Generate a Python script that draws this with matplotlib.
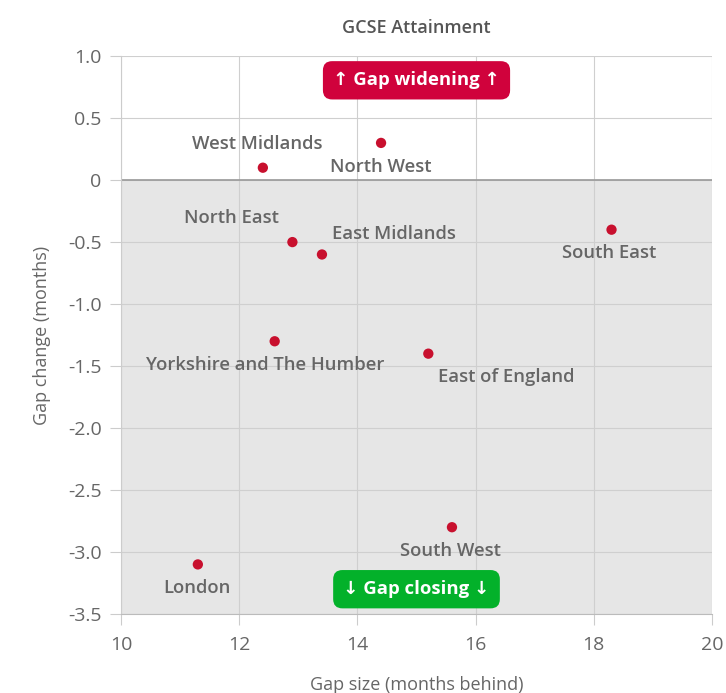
import matplotlib
matplotlib.use("Agg")
import matplotlib.pyplot as plt

regions = ["West Midlands", "North West", "North East", "East Midlands", "South East",
           "Yorkshire and The Humber", "East of England", "South West", "London"]
gap_size = [12.4, 14.4, 12.9, 13.4, 18.3, 12.6, 15.2, 15.6, 11.3]
gap_change = [0.1, 0.3, -0.5, -0.6, -0.4, -1.3, -1.4, -2.8, -3.1]
# label offsets in points (dx, dy) and alignment
label_pos = {
    "West Midlands": (-4, 17, "center"),
    "North West": (0, -17, "center"),
    "North East": (-10, 17, "right"),
    "East Midlands": (7, 15, "left"),
    "South East": (-2, -17, "center"),
    "Yorkshire and The Humber": (-7, -17, "center"),
    "East of England": (7, -17, "left"),
    "South West": (-1, -17, "center"),
    "London": (-1, -17, "center"),
}

plt.rcParams['font.family'] = ['Open Sans', 'DejaVu Sans']
fig = plt.figure(figsize=(7.26, 6.93), dpi=100)
ax = fig.add_axes([0.1667, 0.114, 0.814, 0.805])

ax.set_xlim(10, 20)
ax.set_ylim(-3.5, 1.0)
ax.axhspan(-3.5, 0, color="#e6e6e6", zorder=0)
ax.set_xticks([10, 12, 14, 16, 18, 20])
ax.set_yticks([1.0, 0.5, 0, -0.5, -1.0, -1.5, -2.0, -2.5, -3.0, -3.5])
ax.set_yticklabels(["1.0", "0.5", "0", "-0.5", "-1.0", "-1.5", "-2.0", "-2.5", "-3.0", "-3.5"])
ax.grid(True, color="#cfcfcf", linewidth=0.8, zorder=1)
ax.set_axisbelow(True)
ax.axhline(0, color="#999999", linewidth=1.2, zorder=2)
for s in ["top", "right"]:
    ax.spines[s].set_visible(False)
ax.spines["left"].set_color("#cccccc")
ax.spines["bottom"].set_color("#bbbbbb")
ax.tick_params(axis="both", labelcolor="#666666", labelsize=14, length=8, width=0.8, color="#cccccc")
ax.tick_params(axis="x", pad=8)
ax.tick_params(axis="y", pad=6)

ax.scatter(gap_size, gap_change, s=55, color="#c8102e", zorder=5, edgecolors="none")
for name, x, y in zip(regions, gap_size, gap_change):
    dx, dy, ha = label_pos[name]
    ax.annotate(name, (x, y), xytext=(dx, dy), textcoords="offset points",
                ha=ha, va="center", fontsize=13.3, fontweight="semibold", color="#666666", zorder=6)

ax.text(15.0, 0.805, "↑ Gap widening ↑", ha="center", va="center", fontsize=13.3,
        fontweight="bold", color="white", zorder=7,
        bbox=dict(boxstyle="round,pad=0.55,rounding_size=0.5", fc="#d0023c", ec="none"))
ax.text(15.0, -3.3, "↓ Gap closing ↓", ha="center", va="center", fontsize=13.3,
        fontweight="bold", color="white", zorder=7,
        bbox=dict(boxstyle="round,pad=0.55,rounding_size=0.5", fc="#03b12a", ec="none"))

ax.set_title("GCSE Attainment", fontsize=13, fontweight="semibold", color="#555555", pad=17)
ax.set_xlabel("Gap size (months behind)", fontsize=13, color="#666666", labelpad=16)
ax.set_ylabel("Gap change (months)", fontsize=13, color="#666666", labelpad=12)

fig.savefig("out.png", dpi=100)
